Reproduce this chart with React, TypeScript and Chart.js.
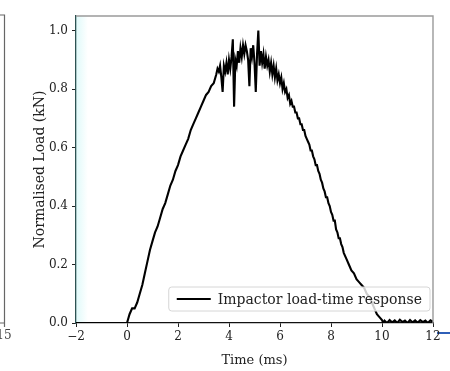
import React, { useEffect, useRef } from "react";
import { Chart, registerables } from "chart.js";

Chart.register(...registerables);

// ---- data ----
const timeMs: number[] = [
  -2.0, -1.5, -1.0, -0.5, 0.0,
  0.1, 0.2, 0.3, 0.4, 0.5, 0.6, 0.7, 0.8, 0.9, 1.0,
  1.1, 1.2, 1.3, 1.4, 1.5, 1.6, 1.7, 1.8, 1.9, 2.0,
  2.1, 2.2, 2.3, 2.4, 2.5, 2.6, 2.7, 2.8, 2.9, 3.0,
  3.1, 3.2, 3.3, 3.4, 3.5,
  3.55, 3.6, 3.65, 3.7, 3.75, 3.8, 3.85, 3.9, 3.95, 4.0,
  4.05, 4.1, 4.15, 4.2, 4.25, 4.3, 4.35, 4.4, 4.45, 4.5,
  4.55, 4.6, 4.65, 4.7, 4.75, 4.8, 4.85, 4.9, 4.95, 5.0,
  5.05, 5.1, 5.15, 5.2, 5.25, 5.3, 5.35, 5.4, 5.45, 5.5,
  5.55, 5.6, 5.65, 5.7, 5.75, 5.8, 5.85, 5.9, 5.95, 6.0,
  6.05, 6.1, 6.15, 6.2, 6.25, 6.3, 6.35, 6.4, 6.45, 6.5,
  6.55, 6.6, 6.65, 6.7, 6.75, 6.8, 6.85, 6.9, 6.95, 7.0,
  7.05, 7.1, 7.15, 7.2, 7.25, 7.3, 7.35, 7.4, 7.45, 7.5,
  7.55, 7.6, 7.65, 7.7, 7.75, 7.8, 7.85, 7.9, 7.95, 8.0,
  8.05, 8.1, 8.15, 8.2, 8.25, 8.3, 8.35, 8.4, 8.45, 8.5,
  8.6, 8.7, 8.8, 8.9, 9.0, 9.1, 9.2, 9.3, 9.4, 9.5,
  9.6, 9.7, 9.8, 9.9, 10.0, 10.05,
  10.1, 10.2, 10.3, 10.4, 10.5, 10.6, 10.7, 10.8, 10.9, 11.0,
  11.1, 11.2, 11.3, 11.4, 11.5, 11.6, 11.7, 11.8, 11.9, 12.0,
];

const normLoad: number[] = [
  0.0, 0.0, 0.0, 0.0, 0.0,
  0.03, 0.05, 0.05, 0.07, 0.10, 0.13, 0.17, 0.21, 0.25, 0.28,
  0.31, 0.33, 0.36, 0.39, 0.41, 0.44, 0.47, 0.49, 0.52, 0.54,
  0.57, 0.59, 0.61, 0.63, 0.66, 0.68, 0.70, 0.72, 0.74, 0.76,
  0.78, 0.79, 0.81, 0.82, 0.85,
  0.87, 0.86, 0.88, 0.84, 0.79, 0.88, 0.86, 0.89, 0.85, 0.90,
  0.87, 0.91, 0.97, 0.74, 0.90, 0.88, 0.93, 0.89, 0.94, 0.91,
  0.95, 0.92, 0.95, 0.93, 0.90, 0.81, 0.94, 0.91, 0.95, 0.89,
  0.79, 0.92, 1.0, 0.88, 0.93, 0.89, 0.92, 0.87, 0.91, 0.88,
  0.90, 0.86, 0.89, 0.85, 0.88, 0.84, 0.87, 0.83, 0.85, 0.82,
  0.84, 0.80, 0.82, 0.79, 0.80, 0.77, 0.78, 0.75, 0.76, 0.74,
  0.74, 0.72, 0.72, 0.70, 0.70, 0.68, 0.68, 0.66, 0.66, 0.64,
  0.63, 0.62, 0.61, 0.59, 0.59, 0.57, 0.56, 0.54, 0.54, 0.52,
  0.51, 0.49, 0.48, 0.46, 0.45, 0.43, 0.43, 0.41, 0.40, 0.38,
  0.37, 0.35, 0.35, 0.32, 0.31, 0.29, 0.29, 0.27, 0.26, 0.24,
  0.22, 0.20, 0.18, 0.17, 0.15, 0.14, 0.13, 0.12, 0.10, 0.09,
  0.07, 0.05, 0.03, 0.02, 0.01, 0.0,
  0.008, 0.0, 0.01, 0.002, 0.009, 0.0, 0.011, 0.003, 0.008, 0.0,
  0.01, 0.002, 0.009, 0.001, 0.01, 0.003, 0.008, 0.0, 0.009, 0.004,
];

const seriesLabel = "Impactor load-time response";
const xTitle = "Time (ms)";
const yTitle = "Normalised Load (kN)";
const sidePanelTick = "15";

const SERIF = '"DejaVu Serif", serif';

const decorPlugin = {
  id: "decor",
  beforeDraw(chart: any) {
    const { ctx, chartArea: a } = chart;
    ctx.save();
    ctx.fillStyle = "#ffffff";
    ctx.fillRect(0, 0, chart.width, chart.height);
    // faint cyan tint along the left spine
    const g = ctx.createLinearGradient(a.left, 0, a.left + 12, 0);
    g.addColorStop(0, "rgba(215,248,248,0.8)");
    g.addColorStop(1, "rgba(215,248,248,0)");
    ctx.fillStyle = g;
    ctx.fillRect(a.left, a.top, 12, a.bottom - a.top);
    // neighbouring panel edge on the far left
    ctx.strokeStyle = "#666";
    ctx.lineWidth = 1.2;
    ctx.beginPath();
    ctx.moveTo(0, a.top - 1);
    ctx.lineTo(4.5, a.top - 1);
    ctx.lineTo(4.5, a.bottom);
    ctx.lineTo(0, a.bottom);
    ctx.moveTo(4.5, a.bottom);
    ctx.lineTo(4.5, a.bottom + 4);
    ctx.stroke();
    ctx.fillStyle = "#444";
    ctx.font = "12px " + SERIF;
    ctx.textAlign = "center";
    ctx.textBaseline = "middle";
    ctx.fillText(sidePanelTick, 4, a.bottom + 13);
    // blue stub at bottom right
    ctx.strokeStyle = "#2f5fb8";
    ctx.lineWidth = 2;
    ctx.beginPath();
    ctx.moveTo(a.right + 4, a.bottom + 10);
    ctx.lineTo(chart.width, a.bottom + 10);
    ctx.stroke();
    ctx.restore();
  },
  afterDraw(chart: any) {
    const { ctx, chartArea: a } = chart;
    ctx.save();
    // top and right spines
    ctx.strokeStyle = "#9a9a9a";
    ctx.lineWidth = 1.4;
    ctx.beginPath();
    ctx.moveTo(a.left, a.top);
    ctx.lineTo(a.right, a.top);
    ctx.lineTo(a.right, a.bottom);
    ctx.stroke();
    // legend inside the plot, lower right
    const label = chart.data.datasets[0].label as string;
    ctx.font = "14px " + SERIF;
    const tw = ctx.measureText(label).width;
    const pad = 8, lineLen = 34, gap = 7, h = 24;
    const w = pad + lineLen + gap + tw + pad;
    const x1 = a.right - 3 - w;
    const y1 = a.bottom - 12 - h;
    ctx.beginPath();
    (ctx as any).roundRect(x1, y1, w, h, 3);
    ctx.fillStyle = "rgba(255,255,255,0.8)";
    ctx.fill();
    ctx.strokeStyle = "#d6d6d6";
    ctx.lineWidth = 1;
    ctx.stroke();
    const ym = y1 + h / 2;
    ctx.strokeStyle = "#000";
    ctx.lineWidth = 1.8;
    ctx.beginPath();
    ctx.moveTo(x1 + pad, ym);
    ctx.lineTo(x1 + pad + lineLen, ym);
    ctx.stroke();
    ctx.fillStyle = "#222";
    ctx.textAlign = "left";
    ctx.textBaseline = "middle";
    ctx.fillText(label, x1 + pad + lineLen + gap, ym + 1);
    ctx.restore();
  },
};

export default function App() {
  const ref = useRef<HTMLCanvasElement | null>(null);

  useEffect(() => {
    if (!ref.current) return;
    const points = timeMs.map((t, i) => ({ x: t, y: normLoad[i] }));
    const chart = new Chart(ref.current, {
      type: "line",
      data: {
        datasets: [
          {
            label: seriesLabel,
            data: points,
            borderColor: "#000",
            borderWidth: 2.1,
            pointRadius: 0,
            tension: 0,
            fill: false,
          },
        ],
      },
      options: {
        animation: false,
        responsive: false,
        devicePixelRatio: 1,
        layout: { padding: { left: 28, top: 16, right: 17, bottom: 0 } },
        plugins: { legend: { display: false }, tooltip: { enabled: false } },
        scales: {
          x: {
            type: "linear",
            min: -2,
            max: 12,
            afterFit: (s: any) => { s.height = 48; },
            ticks: {
              stepSize: 2,
              color: "#222",
              padding: 3,
              font: { family: SERIF, size: 12 },
              callback: (v: any) => (v < 0 ? "\u2212" + Math.abs(v) : String(v)),
            },
            grid: { drawOnChartArea: false, drawTicks: true, tickLength: 4, tickColor: "#222" },
            border: { color: "#111", width: 1.3 },
            title: {
              display: true,
              text: xTitle,
              color: "#222",
              font: { family: SERIF, size: 13 },
              padding: { top: 2, bottom: 3 },
            },
          },
          y: {
            type: "linear",
            min: 0,
            max: 1.05,
            afterFit: (s: any) => { s.width = 48; },
            ticks: {
              stepSize: 0.2,
              includeBounds: false,
              color: "#222",
              padding: 4,
              font: { family: SERIF, size: 12 },
              callback: (v: any) => Number(v).toFixed(1),
            },
            grid: { drawOnChartArea: false, drawTicks: true, tickLength: 4, tickColor: "#222" },
            border: { color: "#2d5252", width: 1.3 },
            title: {
              display: true,
              text: yTitle,
              color: "#222",
              font: { family: SERIF, size: 14 },
              padding: { top: 4, bottom: 4 },
            },
          },
        },
      },
      plugins: [decorPlugin],
    });
    return () => chart.destroy();
  }, []);

  return (
    <div style={{ position: "absolute", left: 0, top: 0, width: 450, height: 371, background: "#fff" }}>
      <canvas ref={ref} width={450} height={371} />
    </div>
  );
}
